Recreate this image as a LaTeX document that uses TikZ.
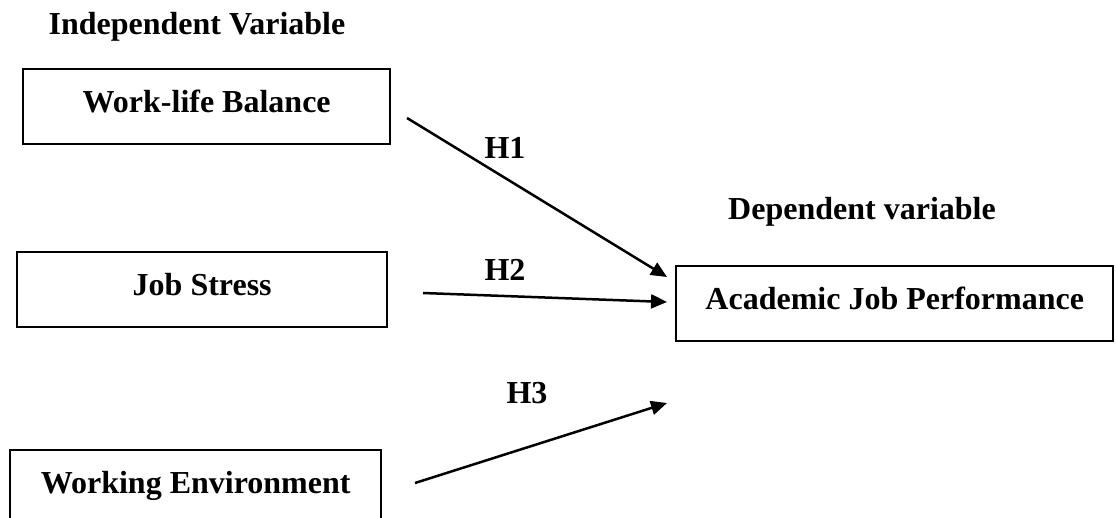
\documentclass[tikz,border=0pt]{standalone}
\usepackage{fontspec}
\setmainfont{Liberation Serif}
\usepackage{tikz}
\usetikzlibrary{arrows.meta}

\begin{document}
\begin{tikzpicture}[x=0.5pt, y=-0.5pt,
    varbox/.style={draw, line width=1.2pt, inner xsep=0pt, inner ysep=0pt,
        text height=21.5pt, text depth=16pt, anchor=north west,
        font=\fontsize{16}{19}\selectfont\bfseries},
    hyplabel/.style={font=\fontsize{16}{19}\selectfont\bfseries},
    hyparrow/.style={-{Triangle[length=8pt, width=7pt]}, line width=1.25pt}]
    % --- 1. 畫布大小 ---
    \useasboundingbox (0,0) rectangle (1117,518);

    % --- 2. 標題 ---
    \node[hyplabel] (indep) at (197,27) {Independent Variable};
    \node[hyplabel] (dep) at (862,212) {Dependent variable};

    % --- 3. 變數方框 ---
    \node[varbox, minimum width=183.5pt] (wlb) at (22,68) {Work-life Balance};
    \node[varbox, minimum width=185pt] (js) at (16,251) {Job Stress};
    \node[varbox, minimum width=185.5pt] (we) at (9,449) {Working Environment};
    \node[varbox, minimum width=218.5pt] (ajp) at (675,265) {Academic Job Performance};

    % --- 4. 箭頭端點 ---
    \coordinate (h1s) at (407,118);
    \coordinate (h1e) at (667,277);
    \coordinate (h2s) at (423,293);
    \coordinate (h2e) at (667,302);
    \coordinate (h3s) at (415,483);
    \coordinate (h3e) at (667,403);

    % --- 5. 假設箭頭與標籤 ---
    \draw[hyparrow] (h1s) -- (h1e);
    \draw[hyparrow] (h2s) -- (h2e);
    \draw[hyparrow] (h3s) -- (h3e);

    \node[hyplabel] (h1) at (505,148) {H1};
    \node[hyplabel] (h2) at (505,270) {H2};
    \node[hyplabel] (h3) at (527,393) {H3};

\end{tikzpicture}
\end{document}
